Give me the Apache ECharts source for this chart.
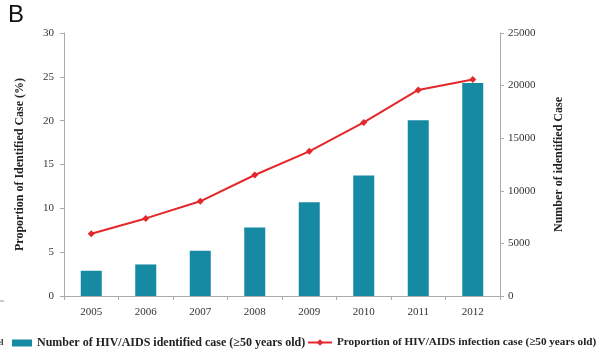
<!DOCTYPE html>
<html><head><meta charset="utf-8">
<script src="https://cdn.jsdelivr.net/npm/echarts@6/dist/echarts.min.js"></script>
<style>html,body{margin:0;padding:0;background:#fff}#c{width:600px;height:360px}</style>
</head><body><div id="c"></div>
<script>
const years = ['2005','2006','2007','2008','2009','2010','2011','2012'];
const identifiedCases = [2400, 3000, 4300, 6500, 8900, 11450, 16700, 20250];
const proportionPct = [7.1, 8.85, 10.8, 13.8, 16.5, 19.8, 23.5, 24.7];
const barName = 'Number of HIV/AIDS identified case (\u226550 years old)';
const lineName = 'Proportion of HIV/AIDS infection case (\u226550 years old)';

const serif = '"Liberation Serif", "DejaVu Serif", serif';
const chart = echarts.init(document.getElementById('c'));
chart.setOption({
  animation: false,
  grid: {left: 64, right: 100, top: 33, bottom: 64, containLabel: false},
  legend: [
    {top: 337, left: 12, padding: 0, itemGap: 2, itemWidth: 20, itemHeight: 7,
     textStyle: {fontFamily: serif, fontWeight: 'bold', fontSize: 12, color: '#222'},
     data: [{name: barName, icon: 'rect'}]},
    {top: 337, left: 307, padding: 0, itemGap: 2, itemWidth: 24, itemHeight: 8,
     textStyle: {fontFamily: serif, fontWeight: 'bold', fontSize: 11.2, color: '#222'},
     data: [{name: lineName}]}
  ],
  graphic: [
    {type: 'text', left: 8, top: 3, style: {text: 'B', fontFamily: 'Liberation Sans, Arial, sans-serif', fontSize: 24, fill: '#111'}},
    {type: 'text', left: -3, top: 338, style: {text: 'el', fontFamily: serif, fontSize: 9, fontWeight: 'bold', fill: '#333'}},
    {type: 'line', shape: {x1: 0, y1: 301, x2: 4, y2: 301}, style: {stroke: '#999', lineWidth: 1}}
  ],
  xAxis: {
    type: 'category', data: years,
    axisLine: {lineStyle: {color: '#aaa'}},
    axisTick: {show: true, inside: false, length: 4, lineStyle: {color: '#aaa'}},
    axisLabel: {fontFamily: serif, fontSize: 11, color: '#333', margin: 11}
  },
  yAxis: [
    {
      type: 'value', min: 0, max: 30, interval: 5, position: 'left',
      name: 'Proportion of Identified Case (%)', nameLocation: 'middle', nameGap: 38,
      nameTextStyle: {fontFamily: serif, fontWeight: 'bold', fontSize: 12, color: '#222'},
      axisLine: {show: true, lineStyle: {color: '#aaa'}},
      axisTick: {show: true, length: 4, lineStyle: {color: '#aaa'}},
      axisLabel: {fontFamily: serif, fontSize: 11, color: '#333', margin: 10},
      splitLine: {show: false}
    },
    {
      type: 'value', min: 0, max: 25000, interval: 5000, position: 'right',
      name: 'Number of identified Case', nameLocation: 'middle', nameGap: 53,
      nameRotate: 90,
      nameTextStyle: {fontFamily: serif, fontWeight: 'bold', fontSize: 12, color: '#222'},
      axisLine: {show: true, lineStyle: {color: '#aaa'}},
      axisTick: {show: true, length: 4, lineStyle: {color: '#aaa'}},
      axisLabel: {fontFamily: serif, fontSize: 11, color: '#333', margin: 8, formatter: v => String(v)},
      splitLine: {show: false}
    }
  ],
  series: [
    {
      name: barName, type: 'bar', yAxisIndex: 1, data: identifiedCases,
      barWidth: 21, itemStyle: {color: '#168aa3'}
    },
    {
      name: lineName, type: 'line', yAxisIndex: 0, data: proportionPct,
      symbol: 'diamond', symbolSize: 7,
      lineStyle: {color: '#e3272b', width: 2},
      itemStyle: {color: '#e3272b'}
    }
  ]
});
</script></body></html>
